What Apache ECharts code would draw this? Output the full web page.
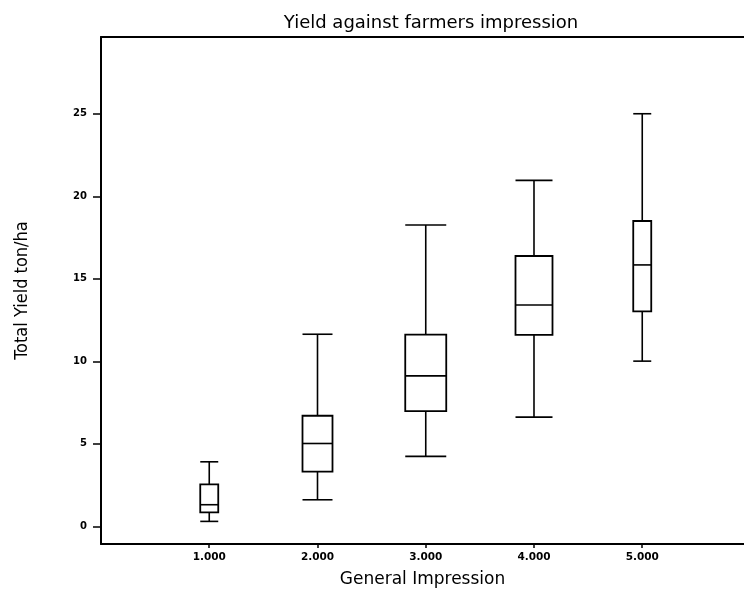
<!DOCTYPE html>
<html>
<head>
<meta charset="utf-8">
<script src="https://cdn.jsdelivr.net/npm/echarts@6/dist/echarts.min.js"></script>
<style>
  html, body { margin: 0; padding: 0; background: #fff; }
  #chart { width: 744px; height: 593px; }
</style>
</head>
<body>
<div id="chart"></div>
<script>
// general impression score for each box
var impression = [1, 2, 3, 4, 5];
// total yield ton/ha
var whiskerLow = [0.30, 1.61, 4.24, 6.62, 10.01];
var q1 = [0.85, 3.31, 6.98, 11.60, 13.03];
var median = [1.31, 5.02, 9.12, 13.41, 15.84];
var q3 = [2.54, 6.70, 11.62, 16.38, 18.50];
var whiskerHigh = [3.91, 11.64, 18.26, 20.96, 25.00];
var yTicks = [0, 5, 10, 15, 20, 25];

// box widths in px (they differ per group in the original)
var boxPx = [18, 30, 41, 37, 18];

var rows = impression.map(function (x, i) {
  return [x, whiskerLow[i], q1[i], median[i], q3[i], whiskerHigh[i]];
});

var chart = echarts.init(document.getElementById('chart'));

function renderBox(params, api) {
  var x = api.value(0);
  var lo = api.coord([x, api.value(1)]);
  var b1 = api.coord([x, api.value(2)]);
  var md = api.coord([x, api.value(3)]);
  var b3 = api.coord([x, api.value(4)]);
  var hi = api.coord([x, api.value(5)]);
  var cx = lo[0];
  var w = boxPx[params.dataIndex];
  var st = { stroke: '#000', lineWidth: 1.6, fill: null };
  return {
    type: 'group',
    children: [
      { type: 'line', shape: { x1: cx, y1: hi[1], x2: cx, y2: b3[1] }, style: st },
      { type: 'line', shape: { x1: cx, y1: b1[1], x2: cx, y2: lo[1] }, style: st },
      { type: 'line', shape: { x1: cx - w / 2, y1: hi[1], x2: cx + w / 2, y2: hi[1] }, style: st },
      { type: 'line', shape: { x1: cx - w / 2, y1: lo[1], x2: cx + w / 2, y2: lo[1] }, style: st },
      { type: 'rect', shape: { x: cx - w / 2, y: b3[1], width: w, height: b1[1] - b3[1] },
        style: { stroke: '#000', lineWidth: 1.8, fill: '#fff' } },
      { type: 'line', shape: { x1: cx - w / 2, y1: md[1], x2: cx + w / 2, y2: md[1] }, style: st }
    ]
  };
}

var option = {
  backgroundColor: '#fff',
  animation: false,
  title: {
    text: 'Yield against farmers impression',
    left: 426,
    top: 9,
    textAlign: 'center',
    textStyle: { fontFamily: 'DejaVu Sans', fontSize: 18, fontWeight: 'normal', color: '#000' }
  },
  grid: { left: 101, top: 37, width: 643, height: 508 },
  xAxis: [{
    type: 'value',
    min: 0,
    max: 5.94,
    interval: 1,
    name: 'General Impression',
    nameLocation: 'middle',
    nameGap: 27,
    nameTextStyle: { fontFamily: 'DejaVu Sans', fontSize: 17, color: '#000' },
    axisLine: { onZero: false, lineStyle: { color: '#000', width: 2 } },
    axisTick: { customValues: impression, length: 4, lineStyle: { color: '#000', width: 1.5 } },
    axisLabel: {
      customValues: impression,
      margin: 8,
      color: '#000',
      fontFamily: 'DejaVu Sans',
      fontWeight: 'bold',
      fontSize: 10.5,
      formatter: function (v) { return v.toFixed(3); }
    },
    splitLine: { show: false }
  }, {
    type: 'value',
    position: 'top',
    min: 0,
    max: 5.94,
    axisLine: { show: true, onZero: false, lineStyle: { color: '#000', width: 2 } },
    axisTick: { show: false },
    axisLabel: { show: false },
    splitLine: { show: false }
  }],
  yAxis: {
    type: 'value',
    min: -1.07,
    max: 29.65,
    name: 'Total Yield ton/ha',
    nameLocation: 'middle',
    nameRotate: 90,
    nameGap: 70,
    nameTextStyle: { fontFamily: 'DejaVu Sans Condensed, Liberation Sans Narrow, DejaVu Sans', fontSize: 18, color: '#000' },
    axisLine: { show: true, onZero: false, lineStyle: { color: '#000', width: 2 } },
    axisTick: { customValues: yTicks, length: 8, lineStyle: { color: '#000', width: 1.5 } },
    axisLabel: {
      customValues: yTicks,
      margin: 14,
      color: '#000',
      fontFamily: 'DejaVu Sans',
      fontWeight: 'bold',
      fontSize: 10
    },
    splitLine: { show: false }
  },
  series: [{
    type: 'custom',
    renderItem: renderBox,
    encode: { x: 0, y: [1, 2, 3, 4, 5] },
    data: rows
  }]
};

chart.setOption(option);
</script>
</body>
</html>
